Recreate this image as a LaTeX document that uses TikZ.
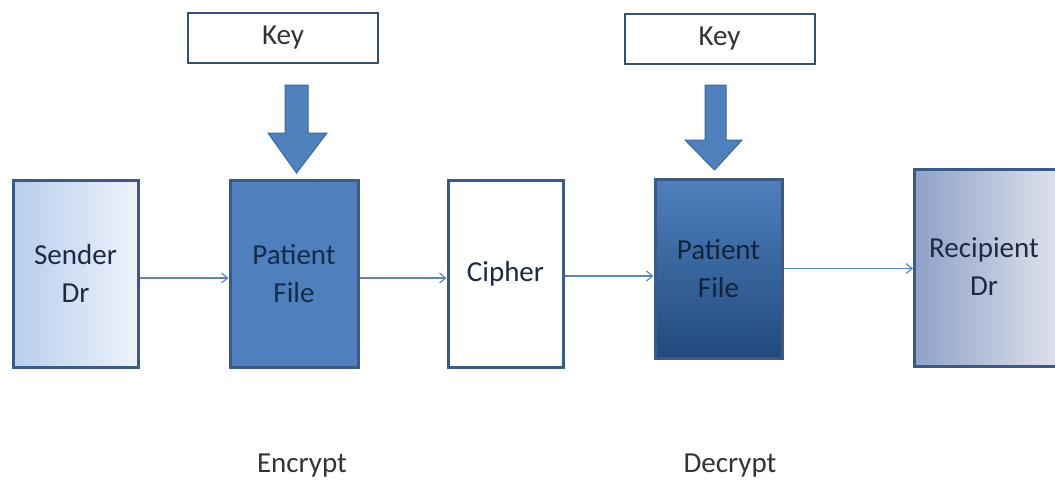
\documentclass[tikz,border=0pt]{standalone}
\usepackage{fontspec}
\setmainfont{Carlito}
\usetikzlibrary{arrows.meta}
\definecolor{bordc}{HTML}{3B5A85}
\definecolor{pfblue}{HTML}{4F80BD}
\definecolor{pfdark}{HTML}{22497D}
\definecolor{txtc}{HTML}{1E2A45}
\definecolor{linec}{HTML}{5C87BE}
\definecolor{bigarr}{HTML}{4F81BD}
\definecolor{bigarrb}{HTML}{3A669C}
\definecolor{sendl}{HTML}{B7CEED}
\definecolor{sendr}{HTML}{EEF2FA}
\definecolor{recl}{HTML}{8EA2C8}
\definecolor{recr}{HTML}{E2E4EC}
\begin{document}
\begin{tikzpicture}[x=1pt,y=-1pt,
  box/.style={draw=bordc, line width=3pt, inner sep=0pt, align=center,
    text=txtc, font=\fontsize{29}{38}\selectfont},
  keybox/.style={draw=bordc!90!black, line width=2pt, fill=white, inner sep=0pt,
    minimum width=190pt, minimum height=50pt, text=black!80,
    font=\fontsize{29}{34}\selectfont},
  lbl/.style={inner sep=0pt, text=black!80, font=\fontsize{29}{34}\selectfont},
  conn/.style={draw=linec, line width=1.5pt, -{Straight Barb[length=6pt,width=10pt,line width=1.2pt]}},
  bigarrow/.style={fill=bigarr, draw=bigarrb, line width=1pt, line join=miter}
]
\path[use as bounding box] (0,0) rectangle (1055,483);
\clip (0,0) rectangle (1055,483);

% boxes
\node[box, left color=sendl, right color=sendr,
  minimum width=125pt, minimum height=187pt] (sender) at (75.5,273.5) {Sender\\Dr};
\node[box, fill=pfblue, minimum width=128pt, minimum height=187pt, text=pfdark!60!black] (pf1) at (294,273.5) {Patient\\File};
\node[box, fill=white, minimum width=115pt, minimum height=187pt] (cipher) at (505.5,273.5) {Cipher};
\node[box, top color=pfblue, bottom color=pfdark, minimum width=127pt, minimum height=179pt, text=pfdark!50!black] (pf2) at (718.5,268.5) {Patient\\File};
\node[box, left color=recl, right color=recr,
  minimum width=150pt, minimum height=197pt, anchor=north west] (recip) at (913,168) {};
\node[box, draw=none, fill=none] (reciptext) at (984,266.5) {Recipient\\Dr};

% key boxes
\node[keybox] (key1) at (283,38) {Key};
\node[keybox] (key2) at (719.5,39) {Key};

% big arrows
\path[bigarrow] (285,85) -- (308,85) -- (308,133) -- (327,133) -- (296.5,173) -- (268,133) -- (285,133) -- cycle;
\path[bigarrow] (705,85) -- (726,85) -- (726,140) -- (742,140) -- (714.5,170) -- (685,140) -- (705,140) -- cycle;

% connectors
\draw[conn] ([yshift=-4.5pt]sender.east) -- ([yshift=-4.5pt]pf1.west);
\draw[conn] ([yshift=-4.5pt]pf1.east) -- ([yshift=-4.5pt]cipher.west);
\draw[conn] ([yshift=-2.5pt]cipher.east) -- ([yshift=-7.5pt]pf2.west);
\draw[conn] (pf2.east) -- (pf2.east -| recip.west);

% labels
\node[lbl] (enc) at (302,466) {Encrypt};
\node[lbl] (dec) at (730,466) {Decrypt};
\end{tikzpicture}
\end{document}
